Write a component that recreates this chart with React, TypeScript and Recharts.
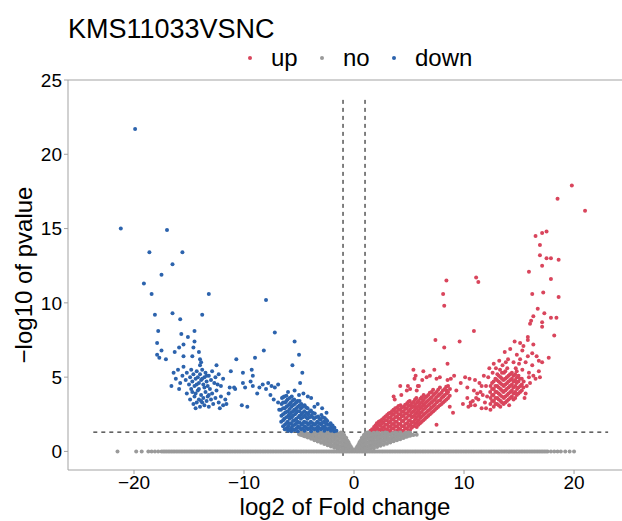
import { ScatterChart, Scatter, XAxis, YAxis, ReferenceLine } from "recharts";

type Pt = [number, number];

// significant up-regulated genes (log2FC, -log10 p)
const upPoints: Pt[] = [
  [19.8, 17.9], [18.5, 17.0], [21.0, 16.2], [16.5, 14.5], [17.1, 14.7], [17.5, 14.8], [16.9, 13.9], [16.9, 13.2],
  [17.5, 13.0], [17.9, 13.0], [18.6, 12.9], [17.1, 12.5], [15.9, 12.1], [17.9, 11.6], [11.1, 11.7], [11.3, 11.4],
  [16.2, 10.6], [17.2, 10.7], [18.6, 10.4], [16.7, 9.6], [17.3, 9.3], [16.3, 9.1], [17.9, 9.0], [18.4, 9.0],
  [16.1, 8.8], [17.1, 8.7], [16.0, 8.6], [17.1, 8.4], [18.2, 7.8], [10.9, 8.1], [15.8, 7.7], [15.8, 7.5],
  [8.4, 11.5], [8.1, 10.6], [8.2, 9.8], [7.4, 7.5], [9.6, 7.4], [8.2, 7.0], [8.5, 5.9], [5.4, 5.5],
  [6.3, 5.4], [7.3, 5.5], [5.5, 4.9], [5.6, 5.1], [6.9, 5.1], [7.5, 4.9], [7.8, 5.0], [9.1, 5.1],
  [8.5, 4.8], [8.8, 4.9], [10.1, 5.0], [10.5, 4.9], [11.0, 4.8], [9.7, 4.6], [10.3, 4.3], [4.2, 4.4],
  [4.8, 4.1], [5.1, 4.2], [5.9, 4.4], [5.7, 4.1], [3.6, 3.7], [4.3, 3.8], [8.4, 4.1], [9.3, 4.1],
  [8.1, 3.7], [9.9, 3.2], [10.4, 3.0], [10.6, 3.1], [8.7, 3.0], [9.0, 2.6], [7.5, 1.8], [10.8, 3.4],
  [11.8, 5.1], [12.4, 2.8], [4.9, 4.4], [5.8, 4.4], [6.2, 4.8], [6.6, 5.0], [3.7, 3.5],
  // far cluster
  [14.6, 7.4], [15.1, 7.3], [15.4, 7.1], [16.3, 7.2], [13.7, 6.7], [14.2, 6.9], [14.8, 6.5], [15.3, 6.8],
  [15.8, 6.4], [16.2, 6.6], [16.8, 6.1], [17.1, 6.0], [17.7, 6.3], [14.0, 6.2], [14.5, 6.0], [15.0, 5.9],
  [15.6, 6.0], [16.2, 5.8], [16.8, 5.4], [16.3, 5.1], [13.5, 5.8], [15.3, 5.5], [15.9, 5.3], [14.7, 5.6],
  [12.4, 3.2], [12.42, 3.6], [12.38, 4.0], [12.41, 4.4],
  [12.7, 3.0], [12.72, 3.4], [12.68, 3.8], [12.71, 4.2], [12.69, 4.7],
  [13.0, 3.2], [13.02, 3.6], [12.98, 4.0], [13.01, 4.4], [12.99, 4.8], [13.03, 5.2],
  [13.3, 3.0], [13.32, 3.4], [13.28, 3.8], [13.31, 4.2], [13.29, 4.6], [13.33, 5.0], [13.27, 5.5],
  [13.6, 3.2], [13.62, 3.6], [13.58, 4.0], [13.61, 4.4], [13.59, 4.8], [13.63, 5.3],
  [13.9, 3.4], [13.92, 3.8], [13.88, 4.2], [13.91, 4.6], [13.89, 5.0], [13.93, 5.6],
  [14.2, 3.6], [14.22, 4.0], [14.18, 4.4], [14.21, 4.8], [14.19, 5.2],
  [14.5, 3.5], [14.52, 3.9], [14.48, 4.3], [14.51, 4.7], [14.49, 5.1],
  [14.8, 3.8], [14.82, 4.2], [14.78, 4.6], [14.81, 5.0], [14.79, 5.4],
  [15.1, 4.0], [15.12, 4.4], [15.08, 4.9], [15.4, 4.3], [15.42, 4.7],
  [12.55, 3.4], [12.55, 3.8], [12.55, 4.2], [12.55, 4.6], [12.85, 3.2], [12.85, 3.6], [12.85, 4.0], [12.85, 4.4], [12.85, 4.9],
  [13.15, 3.1], [13.15, 3.5], [13.15, 3.9], [13.15, 4.3], [13.15, 4.7], [13.15, 5.1],
  [13.45, 3.3], [13.45, 3.7], [13.45, 4.1], [13.45, 4.5], [13.45, 4.9], [13.45, 5.3],
  [13.75, 3.3], [13.75, 3.7], [13.75, 4.1], [13.75, 4.5], [13.75, 4.9], [13.75, 5.4],
  [14.05, 3.5], [14.05, 3.9], [14.05, 4.3], [14.05, 4.7], [14.05, 5.1],
  [14.35, 3.7], [14.35, 4.1], [14.35, 4.5], [14.35, 4.9], [14.35, 5.3],
  [14.65, 3.6], [14.65, 4.0], [14.65, 4.4], [14.65, 4.8], [14.65, 5.2],
  [14.95, 3.9], [14.95, 4.3], [14.95, 4.7], [14.95, 5.1], [15.25, 4.1], [15.25, 4.5], [15.25, 4.9],
  [10.6, 3.3], [11.0, 3.1], [11.3, 3.5], [11.6, 2.9], [11.9, 3.3], [12.1, 3.7], [11.5, 4.0], [12.0, 4.4], [11.2, 3.9],
  [10.9, 4.1], [11.4, 4.6], [11.7, 3.8], [12.2, 5.0], [12.6, 5.3], [11.1, 3.6], [12.0, 2.9], [12.9, 5.6],
  [13.2, 6.1], [12.3, 5.6], [16.5, 4.9], [16.0, 4.6], [15.7, 4.4], [16.9, 5.0], [15.6, 3.9], [15.9, 5.0],
  [16.6, 6.4], [15.1, 6.2], [13.8, 6.0], [12.7, 5.9], [11.6, 4.4], [10.3, 3.6], [15.5, 3.6], [14.1, 3.1],
  // near band
  [1.5, 1.4], [1.8, 1.4], [1.82, 1.65], [2.1, 1.35], [2.12, 1.6], [2.08, 1.9],
  [2.4, 1.45], [2.42, 1.75], [2.38, 2.05], [2.7, 1.35], [2.72, 1.65], [2.68, 1.95], [2.71, 2.25],
  [3.0, 1.5], [3.02, 1.8], [2.98, 2.1], [3.01, 2.45], [3.3, 1.4], [3.32, 1.7], [3.28, 2.0], [3.31, 2.3], [3.29, 2.6],
  [3.6, 1.55], [3.62, 1.85], [3.58, 2.15], [3.61, 2.5], [3.59, 2.8],
  [3.9, 1.4], [3.92, 1.7], [3.88, 2.0], [3.91, 2.35], [3.89, 2.65], [3.93, 2.95],
  [4.2, 1.5], [4.22, 1.85], [4.18, 2.2], [4.21, 2.5], [4.19, 2.8], [4.23, 3.1],
  [4.5, 1.4], [4.52, 1.7], [4.48, 2.05], [4.51, 2.4], [4.49, 2.7], [4.53, 3.0],
  [4.8, 1.55], [4.82, 1.9], [4.78, 2.25], [4.81, 2.55], [4.79, 2.9], [4.83, 3.25],
  [5.1, 1.45], [5.12, 1.8], [5.08, 2.1], [5.11, 2.45], [5.09, 2.8], [5.13, 3.1], [5.07, 3.4],
  [5.4, 1.7], [5.42, 2.0], [5.38, 2.35], [5.41, 2.7], [5.39, 3.0], [5.43, 3.35],
  [5.7, 1.65], [5.72, 1.95], [5.68, 2.3], [5.71, 2.6], [5.69, 2.95], [5.73, 3.3], [5.67, 3.6],
  [6.0, 1.9], [6.02, 2.25], [5.98, 2.55], [6.01, 2.9], [5.99, 3.2], [6.03, 3.55],
  [6.3, 2.1], [6.32, 2.45], [6.28, 2.8], [6.31, 3.1], [6.29, 3.45], [6.33, 3.8],
  [6.6, 2.3], [6.62, 2.65], [6.58, 3.0], [6.61, 3.35], [6.59, 3.7],
  [6.9, 2.5], [6.92, 2.85], [6.88, 3.2], [6.91, 3.55], [6.89, 3.95],
  [7.2, 2.7], [7.22, 3.05], [7.18, 3.4], [7.21, 3.8], [7.19, 4.15],
  [7.5, 2.9], [7.52, 3.3], [7.48, 3.65], [7.51, 4.0],
  [7.8, 3.1], [7.82, 3.45], [7.78, 3.85], [7.81, 4.3],
  [8.1, 3.3], [8.12, 3.7], [8.08, 4.1], [8.4, 3.5], [8.42, 3.9], [8.38, 4.35], [8.7, 3.75], [8.72, 4.2],
  [1.65, 1.5], [1.95, 1.5], [1.95, 1.75], [2.25, 1.5], [2.25, 1.8], [2.25, 2.0],
  [2.55, 1.4], [2.55, 1.6], [2.55, 1.9], [2.55, 2.15], [2.85, 1.5], [2.85, 1.8], [2.85, 2.1], [2.85, 2.35],
  [3.15, 1.35], [3.15, 1.65], [3.15, 1.95], [3.15, 2.25], [3.15, 2.55], [3.45, 1.55], [3.45, 1.85], [3.45, 2.15], [3.45, 2.45], [3.45, 2.7],
  [3.75, 1.35], [3.75, 1.7], [3.75, 2.0], [3.75, 2.3], [3.75, 2.65], [3.75, 2.9],
  [4.05, 1.55], [4.05, 1.85], [4.05, 2.2], [4.05, 2.5], [4.05, 2.8], [4.05, 3.05],
  [4.35, 1.35], [4.35, 1.7], [4.35, 2.05], [4.35, 2.35], [4.35, 2.65], [4.35, 2.95],
  [4.65, 1.55], [4.65, 1.85], [4.65, 2.2], [4.65, 2.55], [4.65, 2.85], [4.65, 3.15],
  [4.95, 1.4], [4.95, 1.7], [4.95, 2.05], [4.95, 2.4], [4.95, 2.7], [4.95, 3.05], [4.95, 3.35],
  [5.25, 1.6], [5.25, 1.95], [5.25, 2.3], [5.25, 2.6], [5.25, 2.95], [5.25, 3.25],
  [5.55, 1.85], [5.55, 2.15], [5.55, 2.5], [5.55, 2.8], [5.55, 3.15], [5.55, 3.5],
  [5.85, 1.8], [5.85, 2.1], [5.85, 2.4], [5.85, 2.75], [5.85, 3.05], [5.85, 3.4],
  [6.15, 2.0], [6.15, 2.35], [6.15, 2.65], [6.15, 3.0], [6.15, 3.3], [6.15, 3.65],
  [6.45, 2.2], [6.45, 2.55], [6.45, 2.9], [6.45, 3.25], [6.45, 3.6], [6.75, 2.4], [6.75, 2.75], [6.75, 3.1], [6.75, 3.45], [6.75, 3.8],
  [7.05, 2.6], [7.05, 2.95], [7.05, 3.3], [7.05, 3.65], [7.05, 4.0], [7.35, 2.8], [7.35, 3.15], [7.35, 3.5], [7.35, 3.9],
  [7.65, 3.0], [7.65, 3.4], [7.65, 3.75], [7.65, 4.15], [7.95, 3.2], [7.95, 3.6], [7.95, 3.95],
  [8.25, 3.4], [8.25, 3.8], [8.25, 4.2], [8.55, 3.6], [8.55, 4.0], [8.55, 4.4],
];

// not significant: points along p = 1 and the wedge round the origin
const noBandX: number[] = [
  -21.5, -19.8, -19.3, -18.7, -18.4, -18.1, -17.8,
  -17.5, -17.2, -16.9, -16.6, -16.3, -16.0, -15.7, -15.4, -15.1, -14.8, -14.5, -14.2, -13.9, -13.6, -13.3,
  -13.0, -12.7, -12.4, -12.1, -11.8, -11.5, -11.2, -10.9, -10.6, -10.3, -10.0, -9.7, -9.4, -9.1, -8.8, -8.5,
  -8.2, -7.9, -7.6, -7.3, -7.0, -6.7, -6.4, -6.1, -5.8, -5.5, -5.2, -4.9, -4.6, -4.3, -4.0, -3.7, -3.4, -3.1,
  -2.8, -2.5, -2.2, -1.9, -1.6, -1.3, -1.0, -0.7, -0.4, -0.1, 0.2, 0.5, 0.8, 1.1, 1.4, 1.7, 2.0, 2.3, 2.6,
  2.9, 3.2, 3.5, 3.8, 4.1, 4.4, 4.7, 5.0, 5.3, 5.6, 5.9, 6.2, 6.5, 6.8, 7.1, 7.4, 7.7, 8.0, 8.3, 8.6, 8.9,
  9.2, 9.5, 9.8, 10.1, 10.4, 10.7, 11.0, 11.3, 11.6, 11.9, 12.2, 12.5, 12.8, 13.1, 13.4, 13.7, 14.0, 14.3,
  14.6, 14.9, 15.2, 15.5, 15.8, 16.1, 16.4, 16.7, 17.0, 17.3, 17.6,
  17.9, 18.2, 18.5, 18.8, 19.2, 19.6, 20.0,
  -17.35, -17.05, -16.75, -16.45, -16.15, -15.85, -15.55, -15.25, -14.95, -14.65, -14.35, -14.05, -13.75,
  -13.45, -13.15, -12.85, -12.55, -12.25, -11.95, -11.65, -11.35, -11.05, -10.75, -10.45, -10.15, -9.85,
  -9.55, -9.25, -8.95, -8.65, -8.35, -8.05, -7.75, -7.45, -7.15, -6.85, -6.55, -6.25, -5.95, -5.65, -5.35,
  -5.05, -4.75, -4.45, -4.15, -3.85, -3.55, -3.25, -2.95, -2.65, -2.35, -2.05, -1.75, -1.45, -1.15, -0.85,
  -0.55, -0.25, 0.05, 0.35, 0.65, 0.95, 1.25, 1.55, 1.85, 2.15, 2.45, 2.75, 3.05, 3.35, 3.65, 3.95, 4.25,
  4.55, 4.85, 5.15, 5.45, 5.75, 6.05, 6.35, 6.65, 6.95, 7.25, 7.55, 7.85, 8.15, 8.45, 8.75, 9.05, 9.35,
  9.65, 9.95, 10.25, 10.55, 10.85, 11.15, 11.45, 11.75, 12.05, 12.35, 12.65, 12.95, 13.25, 13.55, 13.85,
  14.15, 14.45, 14.75, 15.05, 15.35, 15.65, 15.95, 16.25, 16.55, 16.85, 17.15, 17.45,
];

const noWedge: Pt[] = [
  [0.1, 0.03], [0.1, 0.1], [0.3, 0.03], [0.3, 0.18], [0.3, 0.34],
  [0.5, 0.05], [0.5, 0.25], [0.5, 0.45], [0.5, 0.62], [0.7, 0.05], [0.7, 0.28], [0.7, 0.52], [0.7, 0.75], [0.7, 0.9],
  [0.9, 0.05], [0.9, 0.3], [0.9, 0.58], [0.9, 0.85], [0.9, 1.1],
  [1.2, 0.08], [1.2, 0.35], [1.2, 0.62], [1.2, 0.9], [1.2, 1.15], [1.2, 1.28],
  [1.5, 0.15], [1.5, 0.42], [1.5, 0.7], [1.5, 0.95], [1.5, 1.2], [1.8, 0.22], [1.8, 0.48], [1.8, 0.74], [1.8, 1.0], [1.8, 1.25],
  [2.1, 0.3], [2.1, 0.55], [2.1, 0.8], [2.1, 1.05], [2.1, 1.28], [2.4, 0.38], [2.4, 0.62], [2.4, 0.86], [2.4, 1.1],
  [2.7, 0.45], [2.7, 0.7], [2.7, 0.95], [2.7, 1.2], [3.0, 0.52], [3.0, 0.78], [3.0, 1.02], [3.0, 1.26],
  [3.3, 0.6], [3.3, 0.85], [3.3, 1.1], [3.6, 0.68], [3.6, 0.92], [3.6, 1.16], [3.9, 0.75], [3.9, 1.0], [3.9, 1.24],
  [4.2, 0.82], [4.2, 1.06], [4.2, 1.28], [4.5, 0.9], [4.5, 1.12], [4.8, 0.98], [4.8, 1.2], [5.1, 1.05], [5.1, 1.25],
  [5.4, 1.1], [5.7, 1.12],
  [0.2, 0.1], [0.2, 0.22], [0.4, 0.12], [0.4, 0.3], [0.4, 0.45], [0.6, 0.15], [0.6, 0.36], [0.6, 0.58], [0.6, 0.72],
  [0.8, 0.15], [0.8, 0.42], [0.8, 0.68], [0.8, 0.95], [1.05, 0.2], [1.05, 0.48], [1.05, 0.76], [1.05, 1.02], [1.05, 1.22],
  [1.35, 0.25], [1.35, 0.55], [1.35, 0.82], [1.35, 1.08], [1.35, 1.28], [1.65, 0.3], [1.65, 0.58], [1.65, 0.86], [1.65, 1.12],
  [1.95, 0.38], [1.95, 0.64], [1.95, 0.92], [1.95, 1.16], [2.25, 0.45], [2.25, 0.7], [2.25, 0.96], [2.25, 1.2],
  [2.55, 0.5], [2.55, 0.75], [2.55, 1.0], [2.55, 1.24], [2.85, 0.58], [2.85, 0.84], [2.85, 1.08], [2.85, 1.28],
  [3.15, 0.65], [3.15, 0.9], [3.15, 1.15], [3.45, 0.72], [3.45, 0.96], [3.45, 1.2], [3.75, 0.8], [3.75, 1.04], [3.75, 1.27],
  [4.05, 0.86], [4.05, 1.1], [4.35, 0.92], [4.35, 1.16], [4.65, 0.98], [4.65, 1.24], [4.95, 1.05], [4.95, 1.28], [5.25, 1.12],
  [-0.1, 0.03], [-0.1, 0.1], [-0.3, 0.03], [-0.3, 0.18], [-0.3, 0.34],
  [-0.5, 0.05], [-0.5, 0.25], [-0.5, 0.45], [-0.5, 0.62], [-0.7, 0.05], [-0.7, 0.28], [-0.7, 0.52], [-0.7, 0.75], [-0.7, 0.9],
  [-0.9, 0.05], [-0.9, 0.3], [-0.9, 0.58], [-0.9, 0.85], [-0.9, 1.1],
  [-1.2, 0.08], [-1.2, 0.36], [-1.2, 0.64], [-1.2, 0.92], [-1.2, 1.16], [-1.2, 1.28],
  [-1.5, 0.16], [-1.5, 0.44], [-1.5, 0.72], [-1.5, 0.98], [-1.5, 1.22], [-1.8, 0.24], [-1.8, 0.5], [-1.8, 0.78], [-1.8, 1.04], [-1.8, 1.27],
  [-2.1, 0.33], [-2.1, 0.58], [-2.1, 0.84], [-2.1, 1.1], [-2.4, 0.42], [-2.4, 0.66], [-2.4, 0.9], [-2.4, 1.14],
  [-2.7, 0.5], [-2.7, 0.75], [-2.7, 1.0], [-2.7, 1.24], [-3.0, 0.58], [-3.0, 0.84], [-3.0, 1.08], [-3.0, 1.28],
  [-3.3, 0.67], [-3.3, 0.92], [-3.3, 1.16], [-3.6, 0.76], [-3.6, 1.0], [-3.6, 1.24], [-3.9, 0.85], [-3.9, 1.08], [-3.9, 1.28],
  [-4.2, 0.94], [-4.2, 1.16], [-4.5, 1.02], [-4.5, 1.24], [-4.8, 1.1], [-4.8, 1.27], [-5.0, 1.18],
  [-0.2, 0.1], [-0.2, 0.22], [-0.4, 0.12], [-0.4, 0.3], [-0.4, 0.45], [-0.6, 0.15], [-0.6, 0.36], [-0.6, 0.58], [-0.6, 0.72],
  [-0.8, 0.15], [-0.8, 0.42], [-0.8, 0.68], [-0.8, 0.95], [-1.05, 0.2], [-1.05, 0.48], [-1.05, 0.76], [-1.05, 1.02], [-1.05, 1.22],
  [-1.35, 0.26], [-1.35, 0.56], [-1.35, 0.84], [-1.35, 1.1], [-1.65, 0.32], [-1.65, 0.6], [-1.65, 0.9], [-1.65, 1.15],
  [-1.95, 0.4], [-1.95, 0.68], [-1.95, 0.96], [-1.95, 1.2], [-2.25, 0.48], [-2.25, 0.74], [-2.25, 1.0], [-2.25, 1.25],
  [-2.55, 0.56], [-2.55, 0.82], [-2.55, 1.06], [-2.55, 1.28], [-2.85, 0.64], [-2.85, 0.9], [-2.85, 1.14],
  [-3.15, 0.72], [-3.15, 0.96], [-3.15, 1.2], [-3.45, 0.8], [-3.45, 1.04], [-3.45, 1.27], [-3.75, 0.88], [-3.75, 1.12],
  [-4.05, 0.96], [-4.05, 1.2], [-4.35, 1.0], [-4.35, 1.24], [-4.65, 1.08], [-4.65, 1.28], [-4.95, 1.14],
];

// significant down-regulated genes
const downPoints: Pt[] = [
  [-19.9, 21.7], [-21.2, 15.0], [-17.0, 14.9], [-18.6, 13.4], [-15.6, 13.4], [-16.5, 12.6], [-17.5, 11.9], [-19.1, 11.3],
  [-18.4, 10.6], [-13.2, 10.6], [-8.0, 10.2], [-18.1, 9.2], [-16.5, 9.3], [-15.8, 8.9], [-13.8, 9.2], [-17.8, 8.1],
  [-14.5, 8.1], [-7.2, 8.0], [-17.9, 7.3], [-15.7, 7.9], [-15.1, 7.7], [-15.9, 7.0], [-15.5, 7.2], [-14.5, 7.4],
  [-14.6, 7.0], [-5.4, 7.4], [-17.5, 6.8], [-17.9, 6.5], [-17.7, 6.3], [-17.1, 6.2], [-16.3, 6.7], [-15.5, 6.4],
  [-14.7, 6.4], [-14.1, 6.7], [-14.0, 6.2], [-13.9, 6.0], [-14.0, 5.8], [-10.7, 6.2], [-9.0, 6.3], [-8.2, 6.8],
  [-5.0, 6.5], [-5.6, 5.8], [-4.7, 5.3], [-4.9, 4.6], [-11.2, 5.4], [-10.1, 5.3], [-9.3, 5.5], [-9.2, 5.1], [-12.5, 5.8],
  // far cluster
  [-16.4, 5.3], [-16.2, 4.9], [-16.0, 5.5], [-15.8, 4.6], [-15.6, 5.1], [-15.5, 5.7], [-15.3, 4.8], [-15.2, 5.3],
  [-15.0, 4.5], [-14.9, 5.0], [-14.8, 5.5], [-14.7, 4.7], [-14.6, 5.2], [-14.5, 4.4], [-14.4, 4.9], [-14.3, 5.4],
  [-14.2, 5.0], [-14.1, 4.6], [-14.0, 5.2], [-13.9, 4.8], [-13.8, 5.5], [-13.7, 4.5], [-13.6, 5.0], [-13.5, 5.3],
  [-13.4, 4.7], [-13.3, 4.4], [-13.2, 5.1], [-13.0, 4.8], [-12.9, 5.4], [-12.7, 4.6], [-12.6, 5.0], [-12.4, 4.5],
  [-12.3, 5.2], [-16.6, 4.4], [-15.9, 4.2], [-14.8, 4.2], [-13.1, 4.2], [-12.1, 4.4], [-11.9, 4.9],
  [-15.2, 3.9], [-14.9, 3.5], [-14.7, 4.0], [-14.6, 3.2], [-14.5, 3.7], [-14.3, 3.3], [-14.2, 4.1], [-14.1, 3.5],
  [-14.0, 3.0], [-13.9, 3.8], [-13.8, 3.3], [-13.7, 3.6], [-13.6, 3.1], [-13.5, 4.0], [-13.4, 3.4], [-13.3, 3.7],
  [-13.2, 3.0], [-13.0, 3.5], [-12.9, 3.9], [-12.8, 3.2], [-12.6, 3.6], [-12.5, 4.1], [-12.3, 3.3], [-12.1, 3.7],
  [-11.9, 3.1], [-11.7, 3.5], [-11.6, 3.2], [-11.4, 3.9], [-11.3, 4.3], [-12.2, 2.9], [-14.4, 2.9],
  [-14.3, 4.5], [-13.8, 4.9], [-13.4, 5.1], [-14.1, 4.2], [-13.6, 4.3], [-14.4, 3.9], [-13.9, 3.4], [-13.2, 3.8],
  // middle
  [-10.2, 3.1], [-9.7, 3.0], [-10.9, 4.3], [-10.1, 4.6], [-9.9, 4.3], [-8.6, 4.3], [-8.3, 4.5], [-8.0, 4.2],
  [-7.8, 4.6], [-7.5, 4.4], [-7.2, 4.3], [-6.9, 4.5], [-7.6, 3.8], [-7.3, 3.5], [-10.8, 4.2], [-9.2, 4.4],
  [-9.4, 4.7], [-8.8, 3.9],
  // near cluster
  [-6.62, 2.0], [-6.6, 2.4], [-6.64, 2.8], [-6.58, 3.2], [-6.55, 3.6],
  [-6.3, 1.5], [-6.28, 1.8], [-6.33, 2.2], [-6.27, 2.6], [-6.31, 2.9], [-6.26, 3.3], [-6.34, 3.7],
  [-6.0, 1.4], [-5.98, 1.7], [-6.03, 2.0], [-5.97, 2.4], [-6.02, 2.7], [-5.99, 3.1], [-6.04, 3.5],
  [-5.7, 1.35], [-5.68, 1.6], [-5.73, 1.9], [-5.67, 2.3], [-5.72, 2.6], [-5.69, 3.0], [-5.74, 3.3], [-5.66, 3.7],
  [-5.4, 1.45], [-5.38, 1.8], [-5.43, 2.1], [-5.37, 2.5], [-5.42, 2.8], [-5.39, 3.2], [-5.44, 3.5],
  [-5.1, 1.35], [-5.08, 1.7], [-5.13, 2.0], [-5.07, 2.3], [-5.12, 2.7], [-5.09, 3.0], [-5.14, 3.4],
  [-4.8, 1.5], [-4.78, 1.8], [-4.83, 2.2], [-4.77, 2.5], [-4.82, 2.9], [-4.79, 3.2],
  [-4.5, 1.4], [-4.48, 1.7], [-4.53, 2.0], [-4.47, 2.4], [-4.52, 2.7], [-4.49, 3.1],
  [-4.2, 1.5], [-4.18, 1.8], [-4.23, 2.2], [-4.17, 2.5], [-4.22, 2.9],
  [-3.9, 1.35], [-3.88, 1.7], [-3.93, 2.0], [-3.87, 2.4], [-3.92, 2.75],
  [-3.6, 1.5], [-3.58, 1.8], [-3.63, 2.2], [-3.57, 2.55], [-3.3, 1.4], [-3.28, 1.7], [-3.33, 2.0], [-3.27, 2.35],
  [-3.0, 1.5], [-2.98, 1.8], [-3.03, 2.15], [-2.97, 2.45], [-2.7, 1.4], [-2.68, 1.7], [-2.73, 2.0], [-2.67, 2.25],
  [-2.4, 1.5], [-2.38, 1.8], [-2.43, 2.05], [-2.1, 1.4], [-2.08, 1.65], [-2.13, 1.9], [-1.8, 1.35], [-1.78, 1.6], [-1.6, 1.4],
  [-4.6, 3.9], [-3.9, 3.6], [-3.3, 3.2], [-6.8, 2.8], [-6.0, 4.0], [-2.5, 2.6], [-5.4, 4.1], [-4.2, 3.7],
  [-2.9, 2.9], [-3.6, 3.0], [-6.9, 3.3], [-5.0, 3.8],
  [-6.45, 1.7], [-6.45, 2.1], [-6.45, 2.5], [-6.45, 2.9], [-6.45, 3.3], [-6.45, 3.65],
  [-6.15, 1.55], [-6.15, 1.9], [-6.15, 2.3], [-6.15, 2.65], [-6.15, 3.0], [-6.15, 3.4], [-6.15, 3.75],
  [-5.85, 1.5], [-5.85, 1.85], [-5.85, 2.2], [-5.85, 2.5], [-5.85, 2.85], [-5.85, 3.2], [-5.85, 3.6],
  [-5.55, 1.5], [-5.55, 1.75], [-5.55, 2.05], [-5.55, 2.4], [-5.55, 2.7], [-5.55, 3.1], [-5.55, 3.45],
  [-5.25, 1.55], [-5.25, 1.9], [-5.25, 2.2], [-5.25, 2.6], [-5.25, 2.9], [-5.25, 3.3],
  [-4.95, 1.6], [-4.95, 1.95], [-4.95, 2.4], [-4.95, 2.7], [-4.95, 3.1], [-4.95, 3.4],
  [-4.65, 1.55], [-4.65, 1.9], [-4.65, 2.3], [-4.65, 2.6], [-4.65, 3.0],
  [-4.35, 1.6], [-4.35, 1.95], [-4.35, 2.3], [-4.35, 2.6], [-4.35, 2.95],
  [-4.05, 1.55], [-4.05, 1.9], [-4.05, 2.3], [-4.05, 2.65], [-3.75, 1.55], [-3.75, 1.9], [-3.75, 2.3], [-3.75, 2.6],
  [-3.45, 1.55], [-3.45, 1.9], [-3.45, 2.3], [-3.15, 1.55], [-3.15, 1.9], [-3.15, 2.2],
  [-2.85, 1.6], [-2.85, 1.95], [-2.85, 2.3], [-2.55, 1.55], [-2.55, 1.9], [-2.55, 2.15],
  [-2.25, 1.55], [-2.25, 1.8], [-1.95, 1.5], [-1.95, 1.75],
];

const xTicks = [-20, -10, 0, 10, 20];
const yTicks = [0, 5, 10, 15, 20, 25];
const fcCut = 1;
const pCut = 1.3;

const seriesNames = ["up", "no", "down"];
const seriesColors: Record<string, string> = { up: "#d9455c", no: "#9a9a9a", down: "#2c63ad" };

const font = "'Liberation Sans', Arial, sans-serif";
const axisGrey = "#a3a3a3";

const toRows = (pts: Pt[]) => pts.map(([x, y]) => ({ x, y }));
const noRows = [...noBandX.map((x) => ({ x, y: 0 })), ...toRows(noWedge)];
const rows: Record<string, { x: number; y: number }[]> = {
  up: toRows(upPoints),
  no: noRows,
  down: toRows(downPoints),
};

const dot = (fill: string) => (props: any) =>
  <circle cx={props.cx} cy={props.cy} r={2} fill={fill} />;

const minus = (v: number) => String(v).replace("-", "\u2212");

export default function App() {
  return (
    <div style={{ position: "absolute", left: 0, top: 0, width: 622, height: 521, background: "#fff", fontFamily: font }}>
      <svg width={622} height={80} style={{ position: "absolute", left: 0, top: 0 }}>
        <text x={68} y={38} fontSize={27} fill="#000" fontFamily={font}>KMS11033VSNC</text>
        {seriesNames.map((name, i) => {
          const x0 = [250, 322, 394][i];
          return (
            <g key={name}>
              <circle cx={x0} cy={58} r={2} fill={seriesColors[name]} />
              <text x={x0 + 21} y={66} fontSize={24} fill="#000" fontFamily={font}>{name}</text>
            </g>
          );
        })}
      </svg>
      <ScatterChart width={622} height={521} margin={{ top: 80, right: 0, bottom: 0, left: 0 }}>
        <XAxis
          type="number"
          dataKey="x"
          domain={[-26, 24.36]}
          allowDataOverflow
          ticks={xTicks}
          tickFormatter={minus}
          height={51}
          tickSize={4}
          tickMargin={2}
          stroke={axisGrey}
          tick={{ fill: "#000", fontSize: 19, fontFamily: font }}
          label={{ value: "log2 of Fold change", position: "insideBottom", offset: 6, fill: "#000", fontSize: 24, fontFamily: font }}
        />
        <YAxis
          type="number"
          dataKey="y"
          domain={[-1.25, 25]}
          allowDataOverflow
          ticks={yTicks}
          width={68}
          tickSize={4}
          tickMargin={2}
          stroke={axisGrey}
          tick={{ fill: "#000", fontSize: 19, fontFamily: font }}
          label={{ value: "\u2212log10 of pvalue", angle: -90, position: "insideLeft", offset: 23, fill: "#000", fontSize: 24, fontFamily: font, style: { textAnchor: "middle" } }}
        />
        <ReferenceLine y={25} stroke={axisGrey} />
        {seriesNames.map((name) => (
          <Scatter key={name} name={name} data={rows[name]} shape={dot(seriesColors[name])} isAnimationActive={false} />
        ))}
        <ReferenceLine segment={[{ x: -fcCut, y: -0.3 }, { x: -fcCut, y: 23.9 }]} stroke="#000" strokeDasharray="4 4" />
        <ReferenceLine segment={[{ x: fcCut, y: -0.3 }, { x: fcCut, y: 23.9 }]} stroke="#000" strokeDasharray="4 4" />
        <ReferenceLine segment={[{ x: -23.7, y: pCut }, { x: 23.1, y: pCut }]} stroke="#000" strokeDasharray="4 4" />
      </ScatterChart>
    </div>
  );
}
